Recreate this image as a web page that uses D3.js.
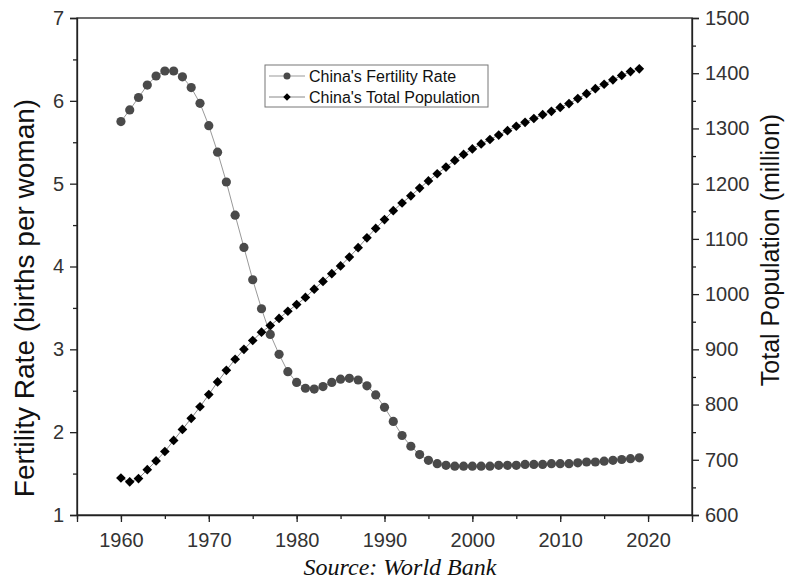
<!DOCTYPE html>
<html>
<head>
<meta charset="utf-8">
<script src="https://cdn.jsdelivr.net/npm/d3@7/dist/d3.min.js"></script>
<style>
  html, body { margin: 0; padding: 0; background: #fff; }
  svg { display: block; }
</style>
</head>
<body>
<svg id="chart" width="787" height="581"></svg>
<script>
const years = d3.range(1960, 2020);
const fertility = [
  5.75, 5.89, 6.04, 6.19, 6.30, 6.36, 6.36, 6.29, 6.16, 5.97,
  5.70, 5.38, 5.02, 4.62, 4.23, 3.84, 3.49, 3.18, 2.94, 2.73,
  2.60, 2.53, 2.52, 2.55, 2.60, 2.64, 2.65, 2.63, 2.56, 2.45,
  2.30, 2.13, 1.96, 1.83, 1.73, 1.66, 1.62, 1.60, 1.59, 1.59,
  1.59, 1.59, 1.59, 1.60, 1.60, 1.60, 1.61, 1.61, 1.61, 1.62,
  1.62, 1.62, 1.63, 1.64, 1.64, 1.65, 1.66, 1.67, 1.68, 1.69
];
const population = [
  667, 660, 666, 682, 698, 715, 735, 755, 775, 796,
  818, 841, 862, 882, 900, 916, 931, 943, 956, 969,
  981, 994, 1009, 1023, 1037, 1051, 1067, 1084, 1102, 1119,
  1135, 1151, 1165, 1178, 1192, 1205, 1218, 1230, 1242, 1253,
  1263, 1272, 1280, 1288, 1296, 1304, 1311, 1318, 1325, 1331,
  1338, 1345, 1354, 1363, 1372, 1380, 1388, 1396, 1403, 1408
];
const xTicks = [1960, 1970, 1980, 1990, 2000, 2010, 2020];
const yLeftTicks = [1, 2, 3, 4, 5, 6, 7];
const yRightTicks = [600, 700, 800, 900, 1000, 1100, 1200, 1300, 1400, 1500];
const seriesNames = ["China's Fertility Rate", "China's Total Population"];
const yLeftTitle = "Fertility Rate (births per woman)";
const yRightTitle = "Total Population (million)";
const sourceText = "Source: World Bank";

const svg = d3.select("#chart");
const L = 77, R = 692, T = 18, B = 515;
const x = d3.scaleLinear().domain([1955, 2025]).range([L, R]);
const yL = d3.scaleLinear().domain([1, 7]).range([B, T]);
const yR = d3.scaleLinear().domain([600, 1500]).range([B, T]);

const axisColor = "#222";
const font = "Liberation Sans, Arial, sans-serif";

// frame
svg.append("rect").attr("x", L).attr("y", T).attr("width", R - L).attr("height", B - T)
  .attr("fill", "none").attr("stroke", axisColor).attr("stroke-width", 1.3);

function styleAxis(g) {
  g.select(".domain").attr("stroke", axisColor).attr("stroke-width", 1.3);
  g.selectAll(".tick line").attr("stroke", axisColor).attr("stroke-width", 1.3);
  g.selectAll(".tick text").attr("fill", "#333").attr("font-family", font).attr("font-size", 20);
}
function minor(g) {
  g.selectAll(".tick text").remove();
  g.select(".domain").remove();
  g.selectAll(".tick line").attr("stroke", axisColor).attr("stroke-width", 1.3);
}

// bottom axis
svg.append("g").attr("transform", `translate(0,${B})`)
  .call(d3.axisBottom(x).tickValues(d3.range(1955, 2026, 5)).tickSize(4).tickFormat(""))
  .call(minor);
svg.append("g").attr("transform", `translate(0,${B})`)
  .call(d3.axisBottom(x).tickValues(xTicks).tickSize(7).tickPadding(11).tickFormat(d3.format("d")))
  .call(styleAxis);

// left axis
svg.append("g").attr("transform", `translate(${L},0)`)
  .call(d3.axisLeft(yL).tickValues(d3.range(1.5, 7, 1)).tickSize(4).tickFormat(""))
  .call(minor);
svg.append("g").attr("transform", `translate(${L},0)`)
  .call(d3.axisLeft(yL).tickValues(yLeftTicks).tickSize(7).tickPadding(6).tickFormat(d3.format("d")))
  .call(styleAxis);

// right axis
svg.append("g").attr("transform", `translate(${R},0)`)
  .call(d3.axisRight(yR).tickValues(d3.range(650, 1500, 100)).tickSize(4).tickFormat(""))
  .call(minor);
svg.append("g").attr("transform", `translate(${R},0)`)
  .call(d3.axisRight(yR).tickValues(yRightTicks).tickSize(7).tickPadding(6).tickFormat(d3.format("d")))
  .call(styleAxis);

// axis titles
svg.append("text").attr("transform", `translate(34,298) rotate(-90)`)
  .attr("text-anchor", "middle").attr("font-family", font).attr("font-size", 28).attr("fill", "#111")
  .text(yLeftTitle);
svg.append("text").attr("transform", `translate(779,250) rotate(-90)`)
  .attr("text-anchor", "middle").attr("font-family", font).attr("font-size", 25).attr("fill", "#111")
  .text(yRightTitle);

// source
svg.append("text").attr("x", 400).attr("y", 575).attr("text-anchor", "middle")
  .attr("font-family", "Liberation Serif, Times New Roman, serif").attr("font-style", "italic")
  .attr("font-size", 24).attr("fill", "#111").text(sourceText);

// lines
const fData = years.map((yr, i) => ({ yr, v: fertility[i] }));
const pData = years.map((yr, i) => ({ yr, v: population[i] }));

svg.append("path").datum(fData)
  .attr("d", d3.line().x(d => x(d.yr)).y(d => yL(d.v)))
  .attr("fill", "none").attr("stroke", "#999").attr("stroke-width", 1);
svg.append("path").datum(pData)
  .attr("d", d3.line().x(d => x(d.yr)).y(d => yR(d.v)))
  .attr("fill", "none").attr("stroke", "#888").attr("stroke-width", 1);

const diamond = d3.symbol().type(d3.symbolDiamond2).size(60);

svg.append("g").selectAll("path").data(pData).join("path")
  .attr("transform", d => `translate(${x(d.yr)},${yR(d.v)})`)
  .attr("d", diamond).attr("fill", "#000");

svg.append("g").selectAll("circle").data(fData).join("circle")
  .attr("cx", d => x(d.yr)).attr("cy", d => yL(d.v)).attr("r", 4.6)
  .attr("fill", "#4a4a4a");

// legend
const lg = svg.append("g");
lg.append("rect").attr("x", 265).attr("y", 65).attr("width", 223).attr("height", 42)
  .attr("fill", "#fff").attr("stroke", "#777").attr("stroke-width", 1);
const rows = [
  { y: 76, name: seriesNames[0], type: "circle", line: "#999" },
  { y: 97, name: seriesNames[1], type: "diamond", line: "#888" }
];
rows.forEach(r => {
  lg.append("line").attr("x1", 269).attr("x2", 305).attr("y1", r.y).attr("y2", r.y)
    .attr("stroke", r.line).attr("stroke-width", 1);
  if (r.type === "circle") {
    lg.append("circle").attr("cx", 287).attr("cy", r.y).attr("r", 3.5).attr("fill", "#4a4a4a");
  } else {
    lg.append("path").attr("transform", `translate(287,${r.y})`)
      .attr("d", d3.symbol().type(d3.symbolDiamond2).size(36)).attr("fill", "#000");
  }
  lg.append("text").attr("x", 309).attr("y", r.y).attr("dy", "0.35em")
    .attr("font-family", font).attr("font-size", 16).attr("fill", "#111").text(r.name);
});
</script>
</body>
</html>
